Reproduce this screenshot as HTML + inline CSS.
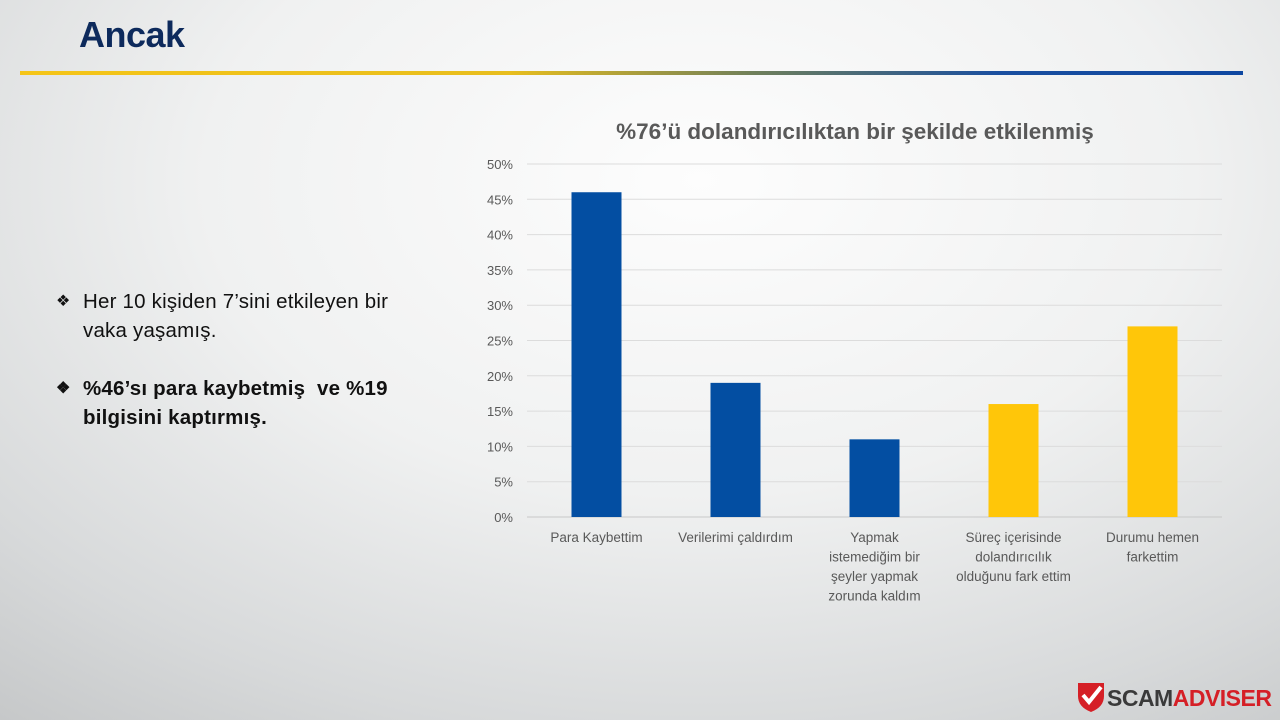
<!DOCTYPE html>
<html><head><meta charset="utf-8"><style>
*{margin:0;padding:0;box-sizing:border-box}
body{width:1280px;height:720px;overflow:hidden;position:relative;font-family:"Liberation Sans",sans-serif;
background:radial-gradient(ellipse 1100px 700px at 700px 180px,#fdfdfd 0%,#f0f1f1 45%,#d7d9da 80%,#c6c8c9 100%);}
#title{position:absolute;left:79px;top:14px;font-size:36px;font-weight:bold;color:#0d2a5c;letter-spacing:-0.5px}
#rule{position:absolute;left:20px;top:71px;width:1223px;height:4px;background:linear-gradient(90deg,#f5c518 0%,#e8be1e 40%,#6f7f5a 60%,#1a4fa0 80%,#0e47a1 100%)}
.b{position:absolute;left:56px;font-size:20.5px;color:#111;line-height:29px;letter-spacing:0.2px}
.b span.d{position:absolute;left:0;top:0;font-size:16px}
.b .t{margin-left:27px;display:block}
#logo{position:absolute;left:1076px;top:680px}
</style></head><body>
<div id="title">Ancak</div>
<div id="rule"></div>
<div class="b" style="top:287px"><span class="d">❖</span><span class="t">Her 10 kişiden 7’sini etkileyen bir<br>vaka yaşamış.</span></div>
<div class="b" style="top:374px;font-weight:bold"><span class="d">❖</span><span class="t">%46’sı para kaybetmiş&nbsp; ve %19<br>bilgisini kaptırmış.</span></div>
<svg id="chart" width="1280" height="720" style="position:absolute;left:0;top:0">
<text x="855" y="139" text-anchor="middle" font-size="22.5" font-weight="bold" fill="#595959" font-family="Liberation Sans, sans-serif">%76’ü dolandırıcılıktan bir şekilde etkilenmiş</text>
<g id="grid"></g><g id="bars"></g><g id="labels"></g>
</svg>
<svg id="logo" width="200" height="34">
<path d="M2 3 L28 3 L28 16 Q28 27 15 32 Q2 27 2 16 Z" fill="#d51f26"/>
<path d="M7 15 L13 22 L25 7" stroke="#fff" stroke-width="4" fill="none"/>
<text x="31" y="26" font-size="23" font-weight="bold" font-family="Liberation Sans, sans-serif" fill="#3a3a3a" letter-spacing="-0.5">SCAM<tspan fill="#d51f26">ADVISER</tspan></text>
</svg>
<script>
const categories=[["Para Kaybettim"],["Verilerimi çaldırdım"],["Yapmak","istemediğim bir","şeyler yapmak","zorunda kaldım"],["Süreç içerisinde","dolandırıcılık","olduğunu fark ettim"],["Durumu hemen","farkettim"]];
const values=[46,19,11,16,27];
const colors=["#034ea2","#034ea2","#034ea2","#ffc609","#ffc609"];
const ticks=[0,5,10,15,20,25,30,35,40,45,50];
const x0=527,x1=1222,y0=517,y50=164;
const ns="http://www.w3.org/2000/svg";
const y=v=>y0-(v/50)*(y0-y50);
const band=(x1-x0)/values.length;
const g=document.getElementById('grid'),bg=document.getElementById('bars'),lg=document.getElementById('labels');
ticks.forEach(t=>{
 const l=document.createElementNS(ns,'line');
 
 
 l.setAttribute('x1',x0);l.setAttribute('x2',x1);l.setAttribute('y1',y(t));l.setAttribute('y2',y(t));
 l.setAttribute('stroke',t===0?'#c8c8c8':'#dcdcdc');l.setAttribute('stroke-width','1');g.appendChild(l);
 const tx=document.createElementNS(ns,'text');
 
 
 tx.setAttribute('x',513);tx.setAttribute('y',y(t)+5);tx.setAttribute('text-anchor','end');
 tx.setAttribute('font-size','13');tx.setAttribute('fill','#595959');tx.setAttribute('font-family','Liberation Sans, sans-serif');
 tx.textContent=t+'%';g.appendChild(tx);
});
values.forEach((v,i)=>{
 const cx=x0+band*(i+0.5);
 const r=document.createElementNS(ns,'rect');
 
 
 r.setAttribute('x',cx-25);r.setAttribute('width',50);r.setAttribute('y',y(v));r.setAttribute('height',y0-y(v));
 r.setAttribute('fill',colors[i]);bg.appendChild(r);
 categories[i].forEach((line,j)=>{
  const tx=document.createElementNS(ns,'text');
  
  
  tx.setAttribute('x',cx);tx.setAttribute('y',542+j*19.5);tx.setAttribute('text-anchor','middle');
  tx.setAttribute('font-size','13.5');tx.setAttribute('fill','#595959');tx.setAttribute('font-family','Liberation Sans, sans-serif');
  tx.textContent=line;lg.appendChild(tx);
 });
});
</script>
</body></html>
